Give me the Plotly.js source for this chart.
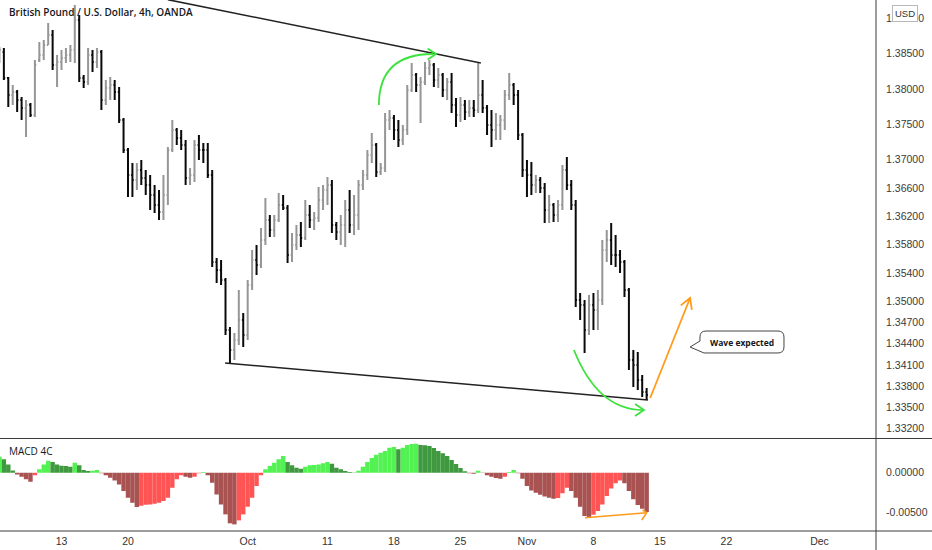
<!DOCTYPE html>
<html>
<head>
<meta charset="utf-8">
<script src="https://cdn.plot.ly/plotly-3.0.1.min.js"></script>
<style>
  html, body { margin: 0; padding: 0; background: #fff; }
  #chart { width: 932px; height: 550px; }
</style>
</head>
<body>
<div id="chart"></div>
<script>
// GBP/USD, grouped to 3 bars per trading day
// (weekends removed, bar 1 = Mon 6 Sep)
var barOpen = [
  1.38478, 1.38520, 1.38153, 1.37913, 1.37955, 1.37842, 1.37729, 1.37772, 1.37631, 1.38407,
  1.38478, 1.38619, 1.38761, 1.38337, 1.38379, 1.38436, 1.38478, 1.38549, 1.38972, 1.38153,
  1.38097, 1.38478, 1.38379, 1.38520, 1.37842, 1.38012, 1.38054, 1.37955, 1.37560, 1.37136,
  1.36783, 1.36712, 1.36854, 1.36741, 1.36642, 1.36500, 1.36359, 1.36260, 1.36500, 1.37136,
  1.37419, 1.37306, 1.37207, 1.36741, 1.36783, 1.37207, 1.37136, 1.37136, 1.36783, 1.35554,
  1.35441, 1.35300, 1.34593, 1.34311, 1.34452, 1.34735, 1.34523, 1.35229, 1.35582, 1.35512,
  1.35865, 1.36147, 1.36006, 1.36147, 1.36359, 1.36317, 1.35653, 1.35794, 1.35935, 1.35893,
  1.36218, 1.36147, 1.36176, 1.36430, 1.36571, 1.36642, 1.36077, 1.35978, 1.36077, 1.36289,
  1.36077, 1.36218, 1.36642, 1.36783, 1.37065, 1.37207, 1.36825, 1.36882, 1.37560, 1.37588,
  1.37419, 1.37277, 1.37419, 1.37984, 1.38196, 1.38054, 1.38097, 1.38294, 1.38337, 1.38125,
  1.38196, 1.37984, 1.38097, 1.37772, 1.37631, 1.37772, 1.37673, 1.37729, 1.37701, 1.37913,
  1.37729, 1.37489, 1.37419, 1.37489, 1.37560, 1.37913, 1.38054, 1.37913, 1.37348, 1.36854,
  1.36783, 1.36642, 1.36712, 1.36599, 1.36289, 1.36359, 1.36218, 1.36359, 1.36854, 1.36642,
  1.36359, 1.35017, 1.34947, 1.34593, 1.34947, 1.34876, 1.35017, 1.35723, 1.35865, 1.35653,
  1.35653, 1.35554, 1.35158, 1.34170, 1.34099, 1.33887, 1.33718
];
var barHigh = [
  1.38591, 1.38577, 1.38167, 1.38054, 1.37984, 1.37885, 1.37842, 1.37800, 1.38407, 1.38662,
  1.38690, 1.38930, 1.38831, 1.38478, 1.38549, 1.38577, 1.38619, 1.39184, 1.39043, 1.38196,
  1.38577, 1.38549, 1.38577, 1.38549, 1.38125, 1.38167, 1.38125, 1.38026, 1.37588, 1.37164,
  1.36952, 1.36952, 1.36995, 1.36854, 1.36783, 1.36642, 1.36571, 1.36783, 1.37178, 1.37560,
  1.37447, 1.37419, 1.37277, 1.36882, 1.37277, 1.37348, 1.37235, 1.37235, 1.36854, 1.35610,
  1.35582, 1.35328, 1.34636, 1.34551, 1.35158, 1.34834, 1.35300, 1.35723, 1.35794, 1.36034,
  1.36458, 1.36218, 1.36218, 1.36529, 1.36500, 1.36359, 1.35964, 1.36077, 1.36119, 1.36430,
  1.36359, 1.36260, 1.36613, 1.36642, 1.36755, 1.36712, 1.36119, 1.36218, 1.36430, 1.36571,
  1.36500, 1.36712, 1.36854, 1.37136, 1.37376, 1.37235, 1.36952, 1.37659, 1.37701, 1.37631,
  1.37560, 1.37489, 1.38054, 1.38365, 1.38224, 1.38167, 1.38379, 1.38407, 1.38365, 1.38294,
  1.38224, 1.38153, 1.38224, 1.37871, 1.37885, 1.37842, 1.37842, 1.37842, 1.38365, 1.38125,
  1.37772, 1.37701, 1.37659, 1.37631, 1.37984, 1.38224, 1.38083, 1.37984, 1.37376, 1.36995,
  1.36967, 1.36783, 1.36755, 1.36670, 1.36500, 1.36387, 1.36430, 1.36924, 1.37037, 1.36712,
  1.36430, 1.35116, 1.35017, 1.35088, 1.35116, 1.35158, 1.35865, 1.36006, 1.36105, 1.35935,
  1.35723, 1.35582, 1.35187, 1.34311, 1.34283, 1.33958, 1.33774
];
var barLow = [
  1.38365, 1.38125, 1.37744, 1.37772, 1.37673, 1.37560, 1.37320, 1.37602, 1.37602, 1.38379,
  1.38407, 1.38619, 1.38266, 1.38026, 1.38266, 1.38365, 1.38379, 1.38365, 1.38097, 1.38012,
  1.38054, 1.38238, 1.38294, 1.37701, 1.37772, 1.37842, 1.37842, 1.37518, 1.37094, 1.36472,
  1.36472, 1.36571, 1.36642, 1.36500, 1.36289, 1.36246, 1.36147, 1.36147, 1.36359, 1.37108,
  1.37207, 1.37136, 1.36642, 1.36642, 1.36684, 1.36995, 1.36952, 1.36741, 1.35483, 1.35257,
  1.35229, 1.34523, 1.34127, 1.34170, 1.34382, 1.34353, 1.34452, 1.35158, 1.35370, 1.35469,
  1.35794, 1.35907, 1.35907, 1.36119, 1.36289, 1.35540, 1.35554, 1.35723, 1.35766, 1.35865,
  1.36034, 1.36006, 1.36119, 1.36289, 1.36359, 1.35964, 1.35865, 1.35794, 1.35766, 1.35964,
  1.35935, 1.36006, 1.36571, 1.36712, 1.36952, 1.36755, 1.36783, 1.36825, 1.37419, 1.37277,
  1.37178, 1.37207, 1.37348, 1.37955, 1.37955, 1.37518, 1.38054, 1.38196, 1.38026, 1.38012,
  1.37885, 1.37842, 1.37659, 1.37461, 1.37532, 1.37560, 1.37602, 1.37602, 1.37659, 1.37659,
  1.37348, 1.37178, 1.37277, 1.37277, 1.37419, 1.37842, 1.37772, 1.37277, 1.36755, 1.36472,
  1.36500, 1.36529, 1.36529, 1.36105, 1.36105, 1.36119, 1.36119, 1.36289, 1.36571, 1.36289,
  1.34918, 1.34735, 1.34269, 1.34523, 1.34593, 1.34593, 1.34947, 1.35554, 1.35512, 1.35483,
  1.35399, 1.35060, 1.34028, 1.33788, 1.33746, 1.33647, 1.33605
];
var barClose = [
  1.38549, 1.38153, 1.37913, 1.37955, 1.37842, 1.37729, 1.37772, 1.37631, 1.38337, 1.38478,
  1.38619, 1.38761, 1.38337, 1.38379, 1.38436, 1.38478, 1.38549, 1.38972, 1.38153, 1.38097,
  1.38478, 1.38379, 1.38520, 1.37842, 1.38012, 1.38054, 1.37955, 1.37560, 1.37136, 1.36783,
  1.36712, 1.36854, 1.36741, 1.36642, 1.36500, 1.36359, 1.36260, 1.36500, 1.37136, 1.37419,
  1.37306, 1.37207, 1.36741, 1.36783, 1.37207, 1.37136, 1.37136, 1.36783, 1.35554, 1.35441,
  1.35300, 1.34593, 1.34311, 1.34452, 1.34735, 1.34523, 1.35229, 1.35582, 1.35512, 1.35865,
  1.36147, 1.36006, 1.36147, 1.36359, 1.36317, 1.35653, 1.35794, 1.35935, 1.35893, 1.36218,
  1.36147, 1.36176, 1.36430, 1.36571, 1.36642, 1.36077, 1.35978, 1.36077, 1.36289, 1.36077,
  1.36218, 1.36642, 1.36783, 1.37065, 1.37207, 1.36825, 1.36882, 1.37560, 1.37588, 1.37419,
  1.37277, 1.37419, 1.37984, 1.38196, 1.38054, 1.38097, 1.38294, 1.38337, 1.38125, 1.38196,
  1.37984, 1.38097, 1.37772, 1.37631, 1.37772, 1.37673, 1.37729, 1.37701, 1.37913, 1.37729,
  1.37489, 1.37419, 1.37489, 1.37560, 1.37913, 1.38054, 1.37913, 1.37348, 1.36854, 1.36783,
  1.36642, 1.36712, 1.36599, 1.36289, 1.36359, 1.36218, 1.36359, 1.36854, 1.36642, 1.36359,
  1.35017, 1.34947, 1.34593, 1.34947, 1.34876, 1.35017, 1.35723, 1.35865, 1.35653, 1.35653,
  1.35554, 1.35158, 1.34170, 1.34099, 1.33887, 1.33718, 1.33675
];
// MACD 4C histogram, one value per bar
var macdHist = [
  0.00200, 0.00167, 0.00104, 0.00029, -0.00021, -0.00050, -0.00083, -0.00113, -0.00033, 0.00042,
  0.00104, 0.00150, 0.00133, 0.00104, 0.00088, 0.00083, 0.00075, 0.00125, 0.00092, 0.00033,
  0.00021, 0.00025, 0.00033, -0.00008, -0.00033, -0.00063, -0.00096, -0.00146, -0.00229, -0.00313,
  -0.00375, -0.00429, -0.00413, -0.00400, -0.00396, -0.00388, -0.00375, -0.00354, -0.00313, -0.00188,
  -0.00083, -0.00033, -0.00050, -0.00063, -0.00050, -0.00008, 0.00008, -0.00033, -0.00125, -0.00271,
  -0.00396, -0.00521, -0.00633, -0.00646, -0.00596, -0.00521, -0.00425, -0.00313, -0.00167, -0.00033,
  0.00042, 0.00083, 0.00125, 0.00167, 0.00208, 0.00133, 0.00092, 0.00063, 0.00050, 0.00075,
  0.00092, 0.00096, 0.00104, 0.00117, 0.00133, 0.00113, 0.00063, 0.00042, 0.00021, 0.00008,
  0.00004, 0.00025, 0.00075, 0.00133, 0.00183, 0.00225, 0.00250, 0.00271, 0.00313, 0.00321,
  0.00292, 0.00313, 0.00346, 0.00358, 0.00363, 0.00346, 0.00342, 0.00333, 0.00308, 0.00271,
  0.00242, 0.00208, 0.00158, 0.00108, 0.00058, 0.00017, -0.00008, -0.00013, 0.00025, -0.00004,
  -0.00033, -0.00050, -0.00067, -0.00075, -0.00050, 0.00008, 0.00033, -0.00008, -0.00075, -0.00167,
  -0.00221, -0.00250, -0.00275, -0.00296, -0.00313, -0.00325, -0.00317, -0.00258, -0.00188, -0.00229,
  -0.00313, -0.00425, -0.00542, -0.00558, -0.00525, -0.00479, -0.00396, -0.00292, -0.00196, -0.00133,
  -0.00096, -0.00133, -0.00229, -0.00333, -0.00404, -0.00450, -0.00492
];

var barsPerDay = 3;
var tickDays = [5, 10, 19, 25, 30, 35, 40, 45, 50, 55, 62];
var tickLabels = ['13', '20', 'Oct', '11', '18', '25', 'Nov', '8', '15', '22', 'Dec'];
var priceTicks = [1.39, 1.385, 1.38, 1.375, 1.37, 1.366, 1.362, 1.358, 1.354, 1.35,
                  1.347, 1.344, 1.341, 1.338, 1.335, 1.332];
var macdTicks = [0, -0.005];
var macdTickText = ['0.00000', '-0.00500'];

// drawings on the chart, in (bar, price) coordinates
var topLine = { x0: 39.0, y0: 1.39260, x1: 109.6, y1: 1.38365 };
var bottomLine = { x0: 51.9, y0: 1.34127, x1: 147.3, y1: 1.33605 };

var LIME = '#52f252', GREEN = '#3f9a3f', RED = '#ff5454', MAROON = '#a85252';
var macdColors = macdHist.map(function (v, i) {
  var rising = i > 0 ? v > macdHist[i - 1] : v > macdHist[1];
  if (v >= 0) return rising ? LIME : GREEN;
  return rising ? RED : MAROON;
});

var barX = barClose.map(function (c, i) { return i + 1; });
var tickX = tickDays.map(function (d) { return d * barsPerDay; });

var price = {
  type: 'ohlc',
  x: barX, open: barOpen, high: barHigh, low: barLow, close: barClose,
  xaxis: 'x', yaxis: 'y',
  increasing: { line: { color: '#969696', width: 2 } },
  decreasing: { line: { color: '#0a0a0a', width: 2 } },
  tickwidth: 0.3,
  hoverinfo: 'none'
};
var macd = {
  type: 'bar',
  x: barX, y: macdHist,
  xaxis: 'x', yaxis: 'y2',
  width: 1,
  marker: { color: macdColors, line: { width: 0 } },
  hoverinfo: 'none'
};

var axisFont = { family: 'Liberation Sans, Arial, sans-serif', size: 10.5, color: '#3a3a3a' };
var GREENLINE = '#3ee23e', ORANGE = '#ff9a1a', LINE = '#3a3a3a';

var layout = {
  width: 932, height: 550,
  margin: { l: 0, r: 56, t: 0, b: 19 },
  paper_bgcolor: '#fff', plot_bgcolor: '#fff',
  showlegend: false,
  dragmode: false,
  xaxis: {
    anchor: 'y2',
    range: [1.128, 198.74],
    rangeslider: { visible: false },
    showgrid: false, zeroline: false, showline: false,
    tickvals: tickX, ticktext: tickLabels,
    ticks: 'outside', ticklen: 0, tickcolor: 'rgba(0,0,0,0)',
    tickfont: { family: 'Liberation Sans, Arial, sans-serif', size: 10.5, color: '#333' }
  },
  yaxis: {
    domain: [0.1742, 1],
    range: [1.33061, 1.39255],
    side: 'right', anchor: 'x',
    showgrid: false, zeroline: false, showline: false,
    tickvals: priceTicks, tickformat: '.5f',
    ticks: 'outside', ticklen: 7, tickcolor: 'rgba(0,0,0,0)',
    tickfont: axisFont
  },
  yaxis2: {
    domain: [0, 0.1742],
    range: [-0.0072875, 0.004275],
    side: 'right', anchor: 'x',
    showgrid: false, zeroline: false, showline: false,
    tickvals: macdTicks, ticktext: macdTickText,
    ticks: 'outside', ticklen: 7, tickcolor: 'rgba(0,0,0,0)',
    tickfont: axisFont
  },
  shapes: [
    // pane borders and price scale border
    { type: 'line', xref: 'paper', yref: 'paper', x0: 0, x1: 1.064, y0: 0.1742, y1: 0.1742, line: { color: LINE, width: 1 } },
    { type: 'line', xref: 'paper', yref: 'paper', x0: 0, x1: 1.064, y0: 0, y1: 0, line: { color: LINE, width: 1 } },
    { type: 'line', xref: 'paper', yref: 'paper', x0: 1, x1: 1, y0: -0.04, y1: 1, line: { color: LINE, width: 1 } },
    // wedge lines
    { type: 'line', xref: 'x', yref: 'y', x0: topLine.x0, y0: topLine.y0, x1: topLine.x1, y1: topLine.y1, line: { color: '#222', width: 1.5 } },
    { type: 'line', xref: 'x', yref: 'y', x0: bottomLine.x0, y0: bottomLine.y0, x1: bottomLine.x1, y1: bottomLine.y1, line: { color: '#222', width: 1.5 } },
    // green curved arrow at the October high
    { type: 'path', xref: 'x', yref: 'y', path: 'M 86.6,1.37772 Q 86.6,1.38492 98.8,1.38492', line: { color: GREENLINE, width: 1.8 } },
    { type: 'path', xref: 'x', yref: 'y', path: 'M 97.6,1.38570 L 99.5,1.38492 L 97.6,1.38414', line: { color: GREENLINE, width: 1.8 } },
    // green curved arrow at the November low
    { type: 'path', xref: 'x', yref: 'y', path: 'M 130.6,1.34311 Q 136.0,1.33463 146.2,1.33463', line: { color: GREENLINE, width: 1.8 } },
    { type: 'path', xref: 'x', yref: 'y', path: 'M 144.4,1.33548 L 146.4,1.33463 L 144.4,1.33379', line: { color: GREENLINE, width: 1.8 } },
    // orange projected wave
    { type: 'line', xref: 'x', yref: 'y', x0: 147.8, y0: 1.33633, x1: 156.8, y1: 1.35045, line: { color: ORANGE, width: 1.8 } },
    { type: 'path', xref: 'x', yref: 'y', path: 'M 154.7,1.34941 L 156.8,1.35045 L 157.2,1.34877', line: { color: ORANGE, width: 1.8 } },
    // callout box
    { type: 'path', xref: 'x', yref: 'y',
      path: 'M 160.38,1.34579 L 176.62,1.34579 Q 177.98,1.34579 177.98,1.34494 L 177.98,1.34353 Q 177.98,1.34269 176.62,1.34269 L 159.93,1.34269 L 156.8,1.34353 L 159.03,1.34438 L 159.03,1.34494 Q 159.03,1.34579 160.38,1.34579 Z',
      fillcolor: '#fff', line: { color: '#444', width: 1 } },
    // orange arrow on the MACD lows
    { type: 'line', xref: 'x', yref: 'y2', x0: 133.1, y0: -0.00563, x1: 147.0, y1: -0.00500, line: { color: ORANGE, width: 1.6 } },
    { type: 'path', xref: 'x', yref: 'y2', path: 'M 146.1,-0.00466 L 147.0,-0.00500 L 145.9,-0.00591', line: { color: ORANGE, width: 1.6 } }
  ],
  annotations: [
    { xref: 'paper', yref: 'paper', x: 0.008, y: 0.9774, xanchor: 'left', yanchor: 'middle', showarrow: false,
      text: 'British Pound / U.S. Dollar, 4h, OANDA',
      font: { family: 'Open Sans, sans-serif', size: 10, weight: 600, color: '#131722' } },
    { xref: 'paper', yref: 'paper', x: 0.008, y: 0.1507, xanchor: 'left', yanchor: 'middle', showarrow: false,
      text: 'MACD 4C',
      font: { family: 'Open Sans, sans-serif', size: 10, color: '#131722' } },
    { xref: 'paper', yref: 'paper', x: 1.0331, y: 0.9755, xanchor: 'center', yanchor: 'middle', showarrow: false,
      text: 'USD', bgcolor: '#fff', bordercolor: '#b8b8b8', borderwidth: 1, borderpad: 2,
      font: { family: 'Liberation Sans, Arial, sans-serif', size: 9.5, color: '#333' } },
    { xref: 'x', yref: 'y', x: 168.5, y: 1.34424, xanchor: 'center', yanchor: 'middle', showarrow: false,
      text: 'Wave expected',
      font: { family: 'Open Sans, sans-serif', size: 8.5, weight: 700, color: '#131722' } }
  ]
};

Plotly.newPlot('chart', [macd, price], layout, { staticPlot: true, displayModeBar: false });
</script>
</body>
</html>
